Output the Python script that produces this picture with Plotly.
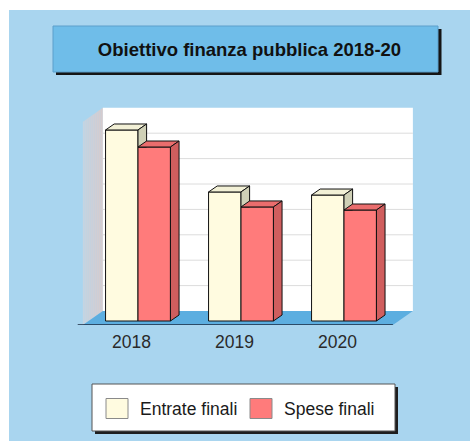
import plotly.graph_objects as go

# ---------------- data ----------------
years = ["2018", "2019", "2020"]
entrate = [7.52, 5.08, 4.96]
spese = [6.85, 4.49, 4.37]
series_names = ["Entrate finali", "Spese finali"]
title_text = "Obiettivo finanza pubblica 2018-20"

# ---------------- layout constants ----------------
W, H = 470, 441
ML, MR, MT, MB = 60, 40, 100, 116
PX_PER_X = 103.0
PX_PER_Y = 25.4
X0_PX = 138.0   # pixel of first category centre (front plane)
Y0_PX = 321.0   # pixel of value 0 (front plane)

plot_w = W - ML - MR
plot_h = H - MT - MB
xmin = -(X0_PX - ML) / PX_PER_X
xmax = xmin + plot_w / PX_PER_X
ymin = -((H - MB) - Y0_PX) / PX_PER_Y
ymax = ymin + plot_h / PX_PER_Y


def off(px, py):
    return px / PX_PER_X, py / PX_PER_Y


FX, FY = off(-5.7, -4.0)    # floor front plane
BX, BY = off(14.3, 10.0)    # back wall plane
DX, DY = off(8.6, 6.0)      # bar depth
X_LO, X_HI = -0.48, 2.53
WALL_TOP = 8
BARGAP = 0.37
bw = (1 - BARGAP) / 2

FONT = "Liberation Sans, Arial, sans-serif"
BG = "#a9d5ef"
C_FRONT = ["#fffbe0", "#ff7b7b"]
C_TOP = ["#f2f0d6", "#ea6d6d"]
C_SIDE = ["#cfd0b6", "#d05e5e"]


def pxp(x):
    return (x - ML) / plot_w


def pyp(y):
    return ((H - MB) - y) / plot_h


shapes = []
# blue background panel
shapes.append(dict(type="rect", xref="paper", yref="paper", layer="below",
                   x0=pxp(9), x1=pxp(475), y0=pyp(445), y1=pyp(10),
                   fillcolor=BG, line=dict(width=0)))

# left wall as gradient strips
N = 10
c0 = (196, 212, 226)
c1 = (214, 204, 206)
for k in range(N):
    t0, t1 = k / N, (k + 1) / N
    xa = X_LO + FX + (BX - FX) * t0
    xb = X_LO + FX + (BX - FX) * t1
    ya = FY + (BY - FY) * t0
    yb = FY + (BY - FY) * t1
    t = (k + 0.5) / N
    col = "rgb(%d,%d,%d)" % tuple(round(c0[i] + (c1[i] - c0[i]) * t) for i in range(3))
    shapes.append(dict(type="path", xref="x", yref="y", layer="below",
                       path=f"M {xa},{ya} L {xb},{yb} L {xb},{WALL_TOP + yb} L {xa},{WALL_TOP + ya} Z",
                       fillcolor=col, line=dict(width=0)))

# back wall
shapes.append(dict(type="rect", xref="x", yref="y", layer="below",
                   x0=X_LO + BX, x1=X_HI + BX, y0=BY, y1=WALL_TOP + BY,
                   fillcolor="#ffffff", line=dict(width=0)))
# gridlines on back wall
for k in range(1, WALL_TOP):
    shapes.append(dict(type="line", xref="x", yref="y", layer="below",
                       x0=X_LO + BX, x1=X_HI + BX, y0=k + BY, y1=k + BY,
                       line=dict(color="#dcdcdc", width=1)))
# floor
shapes.append(dict(type="path", xref="x", yref="y", layer="below",
                   path=f"M {X_LO + FX},{FY} L {X_HI + FX},{FY} L {X_HI + BX},{BY} L {X_LO + BX},{BY} Z",
                   fillcolor="#5caee0", line=dict(width=0)))
# floor front edge
shapes.append(dict(type="line", xref="x", yref="y", layer="below",
                   x0=X_LO + FX - 0.05, x1=X_HI + FX, y0=FY, y1=FY,
                   line=dict(color="#1b2a40", width=1.5)))

# title box with shadow
shapes.append(dict(type="rect", xref="paper", yref="paper", layer="below",
                   x0=pxp(56), x1=pxp(441.5), y0=pyp(75), y1=pyp(29),
                   fillcolor="#151515", line=dict(width=0)))
shapes.append(dict(type="rect", xref="paper", yref="paper", layer="below",
                   x0=pxp(53), x1=pxp(438), y0=pyp(72), y1=pyp(26),
                   fillcolor="#6fbde9", line=dict(color="#5c9fcb", width=1)))

# legend box with shadow
shapes.append(dict(type="rect", xref="paper", yref="paper", layer="above",
                   x0=pxp(95), x1=pxp(398), y0=pyp(434), y1=pyp(387),
                   fillcolor="#1e1e1e", line=dict(width=0)))
shapes.append(dict(type="rect", xref="paper", yref="paper", layer="above",
                   x0=pxp(92), x1=pxp(395), y0=pyp(431), y1=pyp(384),
                   fillcolor="#ffffff", line=dict(color="#555555", width=1)))
leg_sq_x = [106, 250]
leg_tx_x = [138, 282]
for i in range(2):
    shapes.append(dict(type="rect", xref="paper", yref="paper", layer="above",
                       x0=pxp(leg_sq_x[i]), x1=pxp(leg_sq_x[i] + 22), y0=pyp(418.5), y1=pyp(398.5),
                       fillcolor=C_FRONT[i], line=dict(color="#8a8a8a", width=1)))

annotations = []
for i in range(2):
    annotations.append(dict(xref="paper", yref="paper", x=pxp(leg_tx_x[i]), y=pyp(408.5),
                            xanchor="left", yanchor="middle", showarrow=False,
                            text=series_names[i],
                            font=dict(family=FONT, size=17.5, color="#1a1a1a")))

fig = go.Figure()
xs = list(range(len(years)))
fig.add_trace(go.Bar(x=xs, y=entrate, name=series_names[0],
                     marker=dict(color=C_FRONT[0], line=dict(color="#111111", width=1)),
                     showlegend=False, hoverinfo="skip"))
fig.add_trace(go.Bar(x=xs, y=spese, name=series_names[1],
                     marker=dict(color=C_FRONT[1], line=dict(color="#111111", width=1)),
                     showlegend=False, hoverinfo="skip"))

series = [entrate, spese]
for i in xs:
    for j in range(2):
        v = series[j][i]
        xl = i - bw + j * bw
        xr = xl + bw
        # top face
        fig.add_trace(go.Scatter(
            x=[xl, xl + DX, xr + DX, xr, xl],
            y=[v, v + DY, v + DY, v, v],
            mode="lines", fill="toself", fillcolor=C_TOP[j],
            line=dict(color="#111111", width=1), showlegend=False, hoverinfo="skip"))
        # side face (clipped by the neighbour bar in front of it)
        b = 0.0
        if j + 1 < 2:
            b = min(series[j + 1][i], v)
        if b > 0:
            sx = [xr, xr + DX, xr + DX, xr, xr]
            sy = [b, b, v + DY, v, b]
        else:
            sx = [xr, xr + DX, xr + DX, xr, xr]
            sy = [0, DY, v + DY, v, 0]
        fig.add_trace(go.Scatter(
            x=sx, y=sy, mode="lines", fill="toself", fillcolor=C_SIDE[j],
            line=dict(color="#111111", width=1), showlegend=False, hoverinfo="skip"))

LABEL_SHIFT = -6.5 / PX_PER_X
fig.update_layout(
    width=W, height=H, autosize=False,
    margin=dict(l=ML, r=MR, t=MT, b=MB, pad=0),
    paper_bgcolor="#ffffff", plot_bgcolor="rgba(0,0,0,0)",
    barmode="group", bargap=BARGAP, bargroupgap=0,
    showlegend=False,
    title=dict(text="<b>" + title_text + "</b>", x=249.5 / W, xanchor="center",
               y=1 - 49.5 / H, yanchor="middle", xref="container", yref="container",
               font=dict(family=FONT, size=18.5, color="#111111")),
    xaxis=dict(range=[xmin, xmax], showgrid=False, zeroline=False, showline=False,
               ticks="", tickvals=[i + LABEL_SHIFT for i in xs], ticktext=years,
               ticklabelstandoff=4,
               tickfont=dict(family=FONT, size=17.5, color="#2a2a2a"), fixedrange=True),
    yaxis=dict(range=[ymin, ymax], showgrid=False, zeroline=False, showline=False,
               showticklabels=False, ticks="", fixedrange=True),
    shapes=shapes, annotations=annotations,
)

fig.write_html("out.html")
